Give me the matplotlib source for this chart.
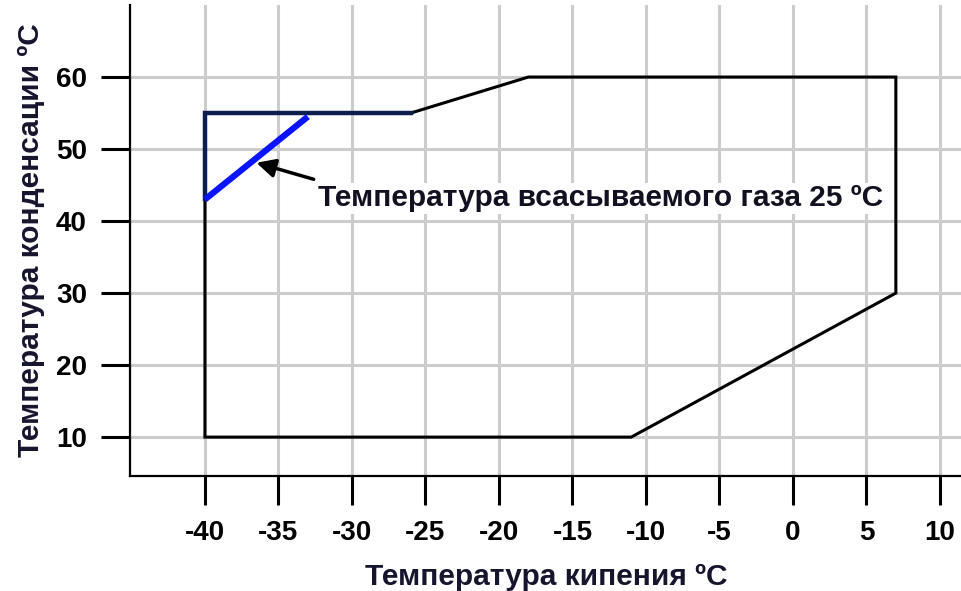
import matplotlib
matplotlib.use("Agg")
import matplotlib.pyplot as plt

plt.rcParams['font.family'] = ['Liberation Sans', 'DejaVu Sans']
plt.rcParams['axes.unicode_minus'] = False

# operating envelope (evaporating temp, condensing temp)
env_black_x = [-40, -40, -11, 7, 7, -18, -26]
env_black_y = [43, 10, 10, 30, 60, 60, 55]
env_navy_x = [-26, -40, -40]
env_navy_y = [55, 55, 43]
# suction gas 25 C limit
suction_x = [-40, -33]
suction_y = [43, 54.5]

x_ticks = [-40, -35, -30, -25, -20, -15, -10, -5, 0, 5, 10]
y_ticks = [10, 20, 30, 40, 50, 60]

note_text = "Температура всасываемого газа 25 ºC"
note_xy = (-32.3, 43.2)
arrow_tail = (-32.6, 45.8)
arrow_tip = (-36.5, 48.1)

fig = plt.figure(figsize=(9.62, 5.91), dpi=100)
ax = fig.add_axes([0.1351, 0.1946, 0.8649, 0.7969])

ax.plot(env_black_x, env_black_y, color='black', lw=2.2, solid_joinstyle='miter', zorder=3)
ax.plot(env_navy_x, env_navy_y, color='#0c1d4e', lw=3.2, solid_joinstyle='miter', zorder=3)
ax.plot(suction_x, suction_y, color='#0a14ff', lw=4.5, solid_capstyle='butt', zorder=4)

ax.annotate('', xy=arrow_tip, xytext=arrow_tail,
            arrowprops=dict(arrowstyle='-|>', color='black', lw=2.5, mutation_scale=28,
                            shrinkA=0, shrinkB=0), zorder=5)
ax.text(note_xy[0], note_xy[1], note_text, fontsize=21.5, fontweight='bold', color='#111122',
        ha='left', va='center', zorder=4,
        bbox=dict(facecolor='white', edgecolor='none', pad=1))

ax.set_xlim(-45.1, 11.5)
ax.set_ylim(4.6, 70.0)
ax.set_xticks(x_ticks)
ax.set_yticks(y_ticks)
ax.grid(True, color='#cccccc', lw=2.2)
ax.set_axisbelow(True)

for s in ['top', 'right']:
    ax.spines[s].set_visible(False)
for s in ['left', 'bottom']:
    ax.spines[s].set_linewidth(1.6)

ax.tick_params(axis='both', length=21, width=2.2, direction='out', labelsize=20)
ax.tick_params(axis='x', pad=11)
ax.tick_params(axis='y', pad=10)
for lab in ax.get_xticklabels() + ax.get_yticklabels():
    lab.set_fontweight('bold')

ax.set_xlabel("Температура кипения ºC", fontsize=21.5, fontweight='bold', color='#15152e', labelpad=12)
ax.set_ylabel("Температура конденсации ºC", fontsize=21.5, fontweight='bold', color='#15152e', labelpad=8)

fig.savefig("out.png", dpi=100)
